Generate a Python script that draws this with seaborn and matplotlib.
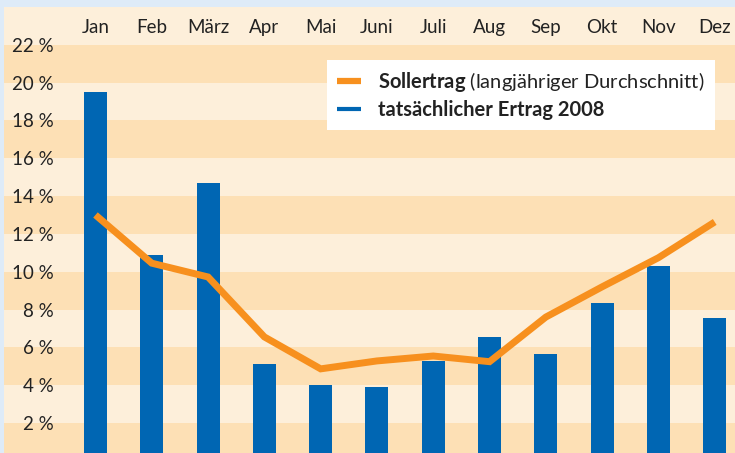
import numpy as np
import matplotlib
matplotlib.use("Agg")
import matplotlib.pyplot as plt
import seaborn as sns
from matplotlib.lines import Line2D

months = ["Jan", "Feb", "März", "Apr", "Mai", "Juni", "Juli", "Aug", "Sep", "Okt", "Nov", "Dez"]
actual_2008 = [19.5, 10.9, 14.7, 5.1, 4.0, 3.9, 5.3, 6.55, 5.65, 8.35, 10.3, 7.55]
soll = [13.0, 10.45, 9.72, 6.55, 4.86, 5.28, 5.54, 5.24, 7.6, 9.2, 10.74, 12.63]
ytick_vals = [2, 4, 6, 8, 10, 12, 14, 16, 18, 20, 22]
ytick_labels = [f"{v} %" for v in ytick_vals]

BLUE = "#0066b3"
ORANGE = "#f7901e"
LIGHT = "#fdefda"
DARK = "#fde0b5"
BG = "#deebf8"
TXT = "#222222"

sns.set_theme(style="white")
plt.rcParams["font.family"] = ["Lato", "DejaVu Sans"]
plt.rcParams["mathtext.fontset"] = "custom"
plt.rcParams["mathtext.bf"] = "Lato:bold"
plt.rcParams["mathtext.rm"] = "Lato"

W, H = 735, 453
fig = plt.figure(figsize=(W / 100, H / 100), dpi=100, facecolor=BG)
ax = fig.add_axes([4 / W, 0, 1 - 4 / W, 1 - 7 / H])
ax.set_facecolor(LIGHT)

for lo in range(0, 22, 4):
    ax.axhspan(lo, lo + 2, color=DARK, lw=0, zorder=0)

x = np.arange(len(months))
sns.barplot(x=months, y=actual_2008, color=BLUE, saturation=1, width=0.41, ax=ax,
            zorder=2, linewidth=0, edgecolor="none")
sns.lineplot(x=x, y=soll, color=ORANGE, lw=5.0, ax=ax, sort=False, zorder=3)
for l in ax.lines:
    l.set_solid_joinstyle("miter")
    l.set_solid_capstyle("butt")

ax.set_xlim(-1.625, 11.36)
ax.set_ylim(0.41, 24.0)

ax.xaxis.tick_top()
ax.set_xticks(x)
ax.set_xticklabels(months, fontsize=13.5, color=TXT)
ax.tick_params(axis="x", length=0, pad=-21)
ax.set_yticks(ytick_vals)
ax.set_yticklabels(ytick_labels, fontsize=13.5, color=TXT)
ax.tick_params(axis="y", length=0, pad=-36)
ax.set_xlabel("")
ax.set_ylabel("")
for s in ax.spines.values():
    s.set_visible(False)
ax.grid(False)

handles = [Line2D([], [], color=ORANGE, lw=4.5, solid_capstyle="butt"),
           Line2D([], [], color=BLUE, lw=3.0, solid_capstyle="butt")]
labels = [r"$\mathbf{Sollertrag}$ (langjähriger Durchschnitt)", "tatsächlicher Ertrag 2008"]
leg = ax.legend(handles, labels, loc="upper left", bbox_to_anchor=(327 / W, 1 - 60 / H),
                bbox_transform=fig.transFigure, borderaxespad=0, frameon=True, fancybox=False,
                facecolor="white", edgecolor="white", framealpha=1, fontsize=14.5,
                handlelength=1.2, handletextpad=0.85, borderpad=0.5, labelspacing=0.3)
leg.get_frame().set_linewidth(0)
leg.get_texts()[1].set_fontweight("bold")
for t in leg.get_texts():
    t.set_color(TXT)
leg.set_zorder(5)

fig.savefig("out.png", dpi=100, facecolor=BG)
